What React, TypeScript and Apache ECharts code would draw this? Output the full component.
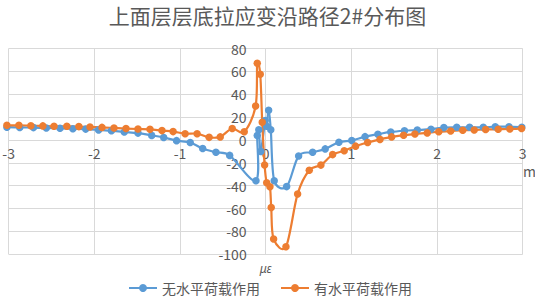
import React, { useEffect, useRef } from "react";
import * as echarts from "echarts";

const titleText = "上面层层底拉应变沿路径2#分布图";
const seriesNames = ["无水平荷载作用", "有水平荷载作用"];
const xName = "m";
const yName = "με";
const xTickMin = -3;
const xTickMax = 3;
const yTickMin = -100;
const yTickMax = 80;

// 无水平荷载作用 (blue)
const blueX = [
  -3.02, -2.87, -2.71, -2.56, -2.4, -2.25, -2.1, -1.95, -1.8, -1.65, -1.49, -1.33, -1.19, -1.04, -0.88, -0.735, -0.58, -0.42,
  -0.113, -0.098, -0.08, -0.057, -0.005, 0.012, 0.035, 0.06, 0.1,
  0.245, 0.385, 0.548, 0.695, 0.855, 1.005, 1.16, 1.31, 1.46, 1.62, 1.77, 1.93, 2.08, 2.23, 2.38, 2.54, 2.68, 2.84, 2.99,
];
const blueY = [
  11.2, 11, 10.8, 10.5, 10.2, 9.8, 9.5, 8.8, 8, 7, 6, 4, 2.2, -0.6, -2.2, -7.5, -10.8, -13.5,
  -35.6, 4, 9, -10, 17, 12, 26, 9, -35.6,
  -40.8, -14, -10.8, -7.8, -2, -0.5, 2.9, 5, 7, 8.1, 8.7, 9.4, 10.8, 11.1, 11.1, 11.1, 11.6, 11.6, 11.1,
];

// 有水平荷载作用 (orange)
const orangeX = [
  -3.02, -2.88, -2.74, -2.6, -2.47, -2.32, -2.18, -2.05, -1.91, -1.77, -1.63, -1.49, -1.35, -1.21, -1.08, -0.94, -0.8, -0.66, -0.53, -0.39, -0.25,
  -0.117, -0.098, -0.063, -0.04, -0.012, 0.012, 0.05, 0.065, 0.093,
  0.237, 0.373, 0.509, 0.645, 0.782, 0.917, 1.05, 1.19, 1.334, 1.47, 1.61, 1.742, 1.886, 2.02, 2.159, 2.3, 2.434, 2.567, 2.714, 2.85, 2.987,
];
const orangeY = [
  12.8, 12.8, 12.5, 12.3, 12, 12, 11.7, 11.3, 11, 10.5, 10, 9.6, 9.3, 8.2, 7.3, 5.5, 5.5, 2.3, 2.7, 10, 7.2,
  29.7, 67, 57.5, 15.5, -22, -37.4, -41, -59, -86.6,
  -93.4, -47.2, -26.5, -22, -12.8, -9.5, -5.4, -2.2, 0.5, 2.7, 4.2, 5.2, 6.2, 7.2, 7.8, 8.5, 8.7, 9.2, 9.4, 9.6, 10,
];

const BLUE = "#5B9BD5";
const ORANGE = "#ED7D31";
const GRID = "#D9D9D9";
const TEXT = "#595959";
const FONT = "'Noto Sans CJK SC', 'Noto Sans', sans-serif";

const W = 535;
const H = 297;
const G = { left: 8.6, right: 12.3, top: 48.5, bottom: 42.7 };

type Pt = number[];

function ctrl(p0: Pt, p1: Pt, p2: Pt, p3: Pt) {
  const dist = (a: Pt, b: Pt) => Math.hypot(a[0] - b[0], a[1] - b[1]);
  const d02 = dist(p0, p2);
  const d12 = dist(p1, p2);
  const d13 = dist(p1, p3);
  const f1 = d02 > 0 ? Math.min(1 / 6, (0.5 * d12) / d02) : 0;
  const f2 = d13 > 0 ? Math.min(1 / 6, (0.5 * d12) / d13) : 0;
  return {
    cpx1: p1[0] + (p2[0] - p0[0]) * f1,
    cpy1: p1[1] + (p2[1] - p0[1]) * f1,
    cpx2: p2[0] - (p3[0] - p1[0]) * f2,
    cpy2: p2[1] - (p3[1] - p1[1]) * f2,
  };
}

function curveSeries(id: string, xs: number[], ys: number[], color: string) {
  const n = xs.length;
  return {
    type: "custom",
    name: id,
    silent: true,
    clip: false,
    data: xs.map((x, i) => [x, ys[i]]),
    renderItem: (params: any, api: any) => {
      const i = params.dataIndex;
      if (i >= n - 1) return null;
      const P = (j: number) => {
        const k = Math.max(0, Math.min(n - 1, j));
        return api.coord([xs[k], ys[k]]);
      };
      const p0 = P(i - 1);
      const p1 = P(i);
      const p2 = P(i + 1);
      const p3 = P(i + 2);
      const c = ctrl(p0, p1, p2, p3);
      return {
        type: "bezierCurve",
        shape: { x1: p1[0], y1: p1[1], x2: p2[0], y2: p2[1], ...c },
        style: { stroke: color, lineWidth: 2.2, fill: "none" },
      };
    },
  };
}

function markerSeries(name: string, xs: number[], ys: number[], color: string) {
  return {
    type: "line",
    name,
    data: xs.map((x, i) => [x, ys[i]]),
    symbol: "circle",
    symbolSize: 7.5,
    showSymbol: true,
    clip: false,
    itemStyle: { color },
    lineStyle: { color, width: 2, opacity: 0 },
    emphasis: { disabled: true },
  };
}

export default function App() {
  const ref = useRef<HTMLDivElement>(null);
  useEffect(() => {
    if (!ref.current) return;
    const chart = echarts.init(ref.current, undefined, { renderer: "svg" });
    const gridW = W - G.left - G.right;
    const gridH = H - G.top - G.bottom;
    // place the axes where the other axis is zero
    const xAxisOffset = -gridH * (0 - yTickMin) / (yTickMax - yTickMin);
    const yAxisOffset = -gridW * (0 - xTickMin) / (xTickMax - xTickMin);
    chart.setOption({
      animation: false,
      backgroundColor: "#ffffff",
      title: {
        text: titleText,
        left: "center",
        top: 3,
        padding: [0, 9, 0, 0],
        textStyle: { color: TEXT, fontSize: 21, fontWeight: "normal", fontFamily: FONT, lineHeight: 24 },
      },
      legend: {
        data: seriesNames,
        left: 123,
        top: 276,
        itemWidth: 28,
        itemHeight: 10,
        itemGap: 20,
        lineStyle: { opacity: 1, width: 2 },
        textStyle: { color: TEXT, fontSize: 14, fontFamily: FONT },
      },
      graphic: [
        {
          type: "text",
          left: 523,
          top: 164,
          style: { text: xName, fill: TEXT, font: `14px ${FONT}` },
        },
      ],
      grid: { ...G, containLabel: false, outerBoundsMode: "none" },
      xAxis: {
        type: "value",
        min: xTickMin,
        max: xTickMax,
        interval: 1,
        position: "bottom",
        offset: xAxisOffset,
        axisLine: { show: true, onZero: false, lineStyle: { color: GRID, width: 1 } },
        axisTick: { show: false },
        axisLabel: { color: TEXT, fontSize: 14, fontFamily: FONT, margin: 6 },
        splitLine: { show: true, lineStyle: { color: GRID, width: 1 } },
      },
      yAxis: {
        type: "value",
        min: yTickMin,
        max: yTickMax,
        interval: 20,
        position: "left",
        offset: yAxisOffset,
        name: yName,
        nameLocation: "start",
        nameGap: 8,
        nameTextStyle: { color: TEXT, fontSize: 12, fontStyle: "italic", fontFamily: "'Noto Sans', sans-serif" },
        axisLine: { show: true, onZero: false, lineStyle: { color: GRID, width: 1 } },
        axisTick: { show: false },
        axisLabel: { color: TEXT, fontSize: 14, fontFamily: FONT, margin: 19 },
        splitLine: { show: true, lineStyle: { color: GRID, width: 1 } },
      },
      series: [
        curveSeries("blueCurve", blueX, blueY, BLUE),
        markerSeries(seriesNames[0], blueX, blueY, BLUE),
        curveSeries("orangeCurve", orangeX, orangeY, ORANGE),
        markerSeries(seriesNames[1], orangeX, orangeY, ORANGE),
      ],
    });
    return () => chart.dispose();
  }, []);
  return (
    <div
      ref={ref}
      style={{ position: "absolute", left: 0, top: 0, width: W, height: H }}
    />
  );
}
